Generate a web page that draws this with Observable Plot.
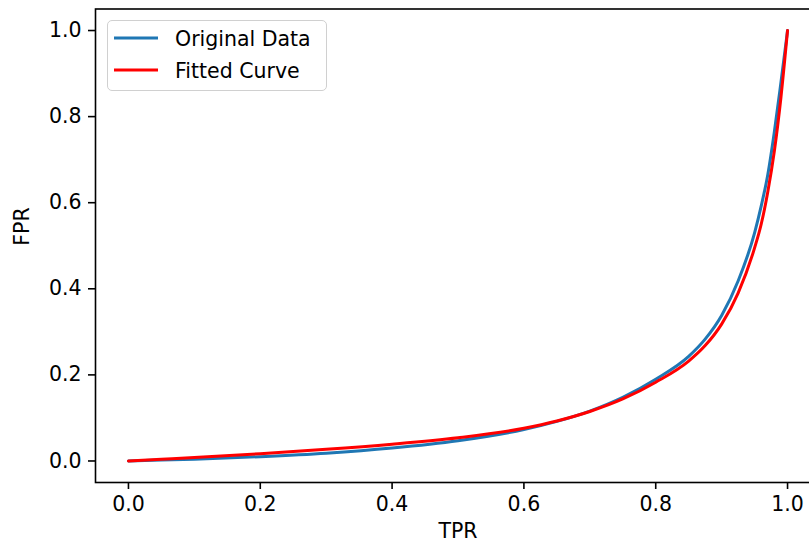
<!DOCTYPE html>
<html>
<head>
<meta charset="utf-8">
<script src="https://cdn.jsdelivr.net/npm/d3@7"></script>
<script src="https://cdn.jsdelivr.net/npm/@observablehq/plot@0.6"></script>
<style>
  html, body { margin: 0; padding: 0; background: #fff; overflow: hidden; }
  #wrap { position: relative; width: 809px; height: 550px; overflow: hidden; }
  #wrap > svg { max-width: none !important; width: 820px; height: 550px; }
  #legend { position: absolute; left: 107px; top: 20px; width: 220px; height: 71px;
            box-sizing: border-box; border: 1.6px solid #d0d0d0; border-radius: 5px;
            background: rgba(255,255,255,0.8); }
</style>
</head>
<body>
<div id="wrap"></div>
<script>
// TPR values (x) and FPR values (y)
const tpr         = [0, 0.05, 0.1, 0.2, 0.3, 0.4, 0.5, 0.6, 0.65, 0.7, 0.75, 0.8, 0.85, 0.875, 0.9, 0.925, 0.95, 0.96, 0.97, 0.98, 0.99, 1.0];
const fprOriginal = [0, 0.002, 0.004, 0.010, 0.018, 0.030, 0.047, 0.073, 0.092, 0.116, 0.148, 0.190, 0.243, 0.283, 0.338, 0.418, 0.530, 0.592, 0.665, 0.765, 0.880, 1.0];
const fprFitted   = [0, 0.004, 0.008, 0.017, 0.027, 0.039, 0.054, 0.076, 0.093, 0.115, 0.144, 0.183, 0.232, 0.268, 0.318, 0.390, 0.495, 0.550, 0.625, 0.720, 0.845, 1.0];
const xTicks = [0, 0.2, 0.4, 0.6, 0.8, 1.0];
const yTicks = [0, 0.2, 0.4, 0.6, 0.8, 1.0];
const seriesNames = ["Original Data", "Fitted Curve"];
const seriesColors = ["#1f77b4", "#ff0000"];

const original = tpr.map((t, i) => ({tpr: t, fpr: fprOriginal[i]}));
const fitted = tpr.map((t, i) => ({tpr: t, fpr: fprFitted[i]}));

const font = "DejaVu Sans, sans-serif";

const chart = Plot.plot({
  width: 820,
  height: 550,
  marginLeft: 95,
  marginRight: 0,
  marginTop: 8.5,
  marginBottom: 68,
  style: {fontFamily: font, fontSize: "20.5px", color: "#000", background: "#fff", overflow: "hidden", maxWidth: "none"},
  x: {domain: [-0.05, 1.05]},
  y: {domain: [-0.05, 1.05]},
  marks: [
    Plot.line(original, {x: "tpr", y: "fpr", stroke: seriesColors[0], strokeWidth: 3, curve: "monotone-x"}),
    Plot.line(fitted, {x: "tpr", y: "fpr", stroke: seriesColors[1], strokeWidth: 3, curve: "monotone-x"}),
    Plot.axisX({ticks: xTicks, tickFormat: d3.format(".1f"), tickSize: 7, tickPadding: 7, strokeWidth: 1.6, label: null, fontSize: 20.5, fill: "#000"}),
    Plot.axisY({ticks: yTicks, tickFormat: d3.format(".1f"), tickSize: 7, tickPadding: 7, strokeWidth: 1.6, label: null, fontSize: 20.5, fill: "#000"}),
    Plot.frame({stroke: "#000", strokeWidth: 1.6}),
    Plot.text(["TPR"], {frameAnchor: "bottom", dy: 55, fontSize: 20.5, fill: "#000"}),
    Plot.text(["FPR"], {frameAnchor: "left", dx: -73, rotate: -90, fontSize: 20.5, fill: "#000"})
  ]
});
document.getElementById("wrap").appendChild(chart);

// Legend overlay
const legend = d3.select("#wrap").append("div").attr("id", "legend");
const lsvg = legend.append("svg").attr("width", 218).attr("height", 69)
  .style("position", "absolute").style("left", "0").style("top", "0");
seriesNames.forEach((name, i) => {
  const cy = 17 + i * 32;
  lsvg.append("line").attr("x1", 6).attr("x2", 50).attr("y1", cy).attr("y2", cy)
    .attr("stroke", seriesColors[i]).attr("stroke-width", 3);
  lsvg.append("text").attr("x", 67).attr("y", cy + 8).text(name)
    .attr("font-family", font).attr("font-size", 20.5).attr("fill", "#000");
});
</script>
</body>
</html>
